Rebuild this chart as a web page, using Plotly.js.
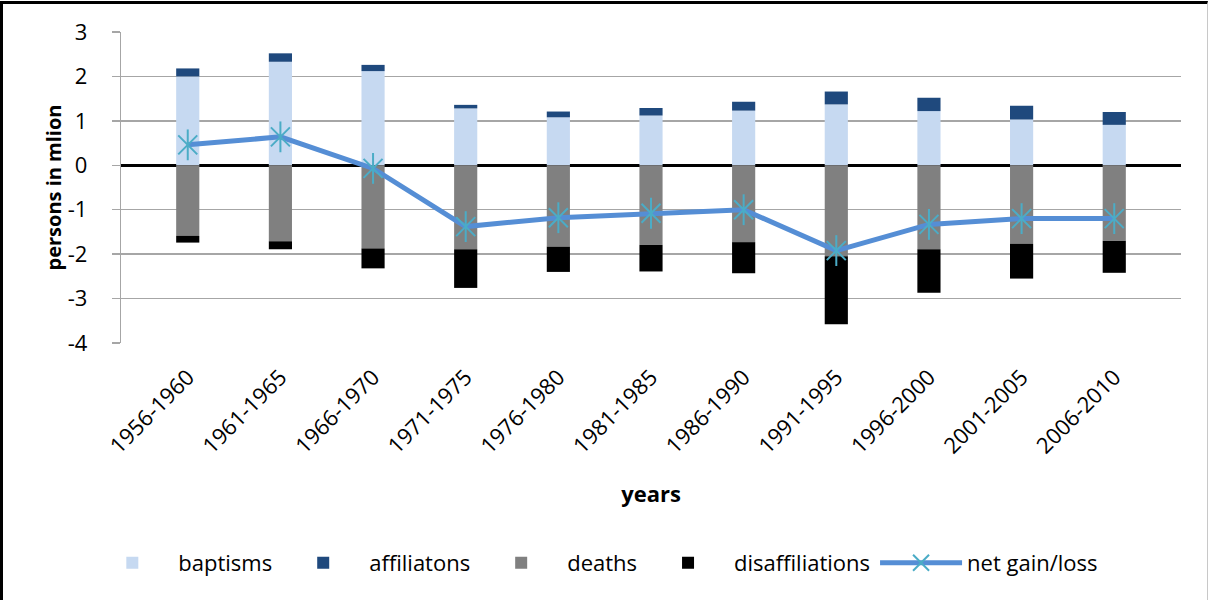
<!DOCTYPE html>
<html>
<head>
<meta charset="utf-8">
<script src="https://cdn.plot.ly/plotly-3.0.1.min.js"></script>
<style>
  html, body { margin: 0; padding: 0; background: #fff; }
  #wrap { position: relative; width: 1210px; height: 600px; }
  #chart { width: 1210px; height: 600px; }
  #frame { position: absolute; left: 0; top: 1px; width: 1208px; height: 599px;
           border-top: 3px solid #000; border-left: 3px solid #000; border-right: 1px solid #c8c8c8;
           box-sizing: border-box; pointer-events: none; }
</style>
</head>
<body>
<div id="wrap">
  <div id="chart"></div>
  <div id="frame"></div>
</div>
<script>
const categories = ['1956-1960','1961-1965','1966-1970','1971-1975','1976-1980','1981-1985',
                    '1986-1990','1991-1995','1996-2000','2001-2005','2006-2010'];
const baptisms        = [2.00, 2.33, 2.12, 1.28, 1.08, 1.12, 1.23, 1.37, 1.22, 1.03, 0.91];
const affiliations    = [0.18, 0.19, 0.14, 0.08, 0.13, 0.17, 0.20, 0.29, 0.30, 0.31, 0.29];
const deaths          = [-1.59, -1.71, -1.87, -1.89, -1.83, -1.79, -1.73, -2.05, -1.89, -1.77, -1.70];
const disaffiliations = [-0.15, -0.18, -0.45, -0.87, -0.57, -0.60, -0.70, -1.53, -0.98, -0.78, -0.72];
const netGainLoss     = [0.46, 0.64, -0.07, -1.38, -1.18, -1.08, -1.00, -1.92, -1.33, -1.20, -1.20];
const yTicks = [3, 2, 1, 0, -1, -2, -3, -4];

const FONT = 'Open Sans, Noto Sans, sans-serif';

const traces = [
  { type: 'bar', name: 'baptisms', x: categories, y: baptisms,
    marker: { color: '#c6d9f1' } },
  { type: 'bar', name: 'affiliatons', x: categories, y: affiliations,
    marker: { color: '#1f497d' } },
  { type: 'bar', name: 'deaths', x: categories, y: deaths,
    marker: { color: '#808080' } },
  { type: 'bar', name: 'disaffiliations', x: categories, y: disaffiliations,
    marker: { color: '#000000' } },
  { type: 'scatter', mode: 'lines+markers', name: 'net gain/loss', x: categories, y: netGainLoss,
    line: { color: '#558ed5', width: 5 },
    marker: { symbol: 'x-thin-open', size: 19, color: '#4bacc6', line: { color: '#4bacc6', width: 2 } } },
  { type: 'scatter', mode: 'markers', name: 'net gain/loss', showlegend: false, x: categories, y: netGainLoss,
    marker: { symbol: 'line-ns-open', size: 22, color: '#4bacc6', line: { color: '#4bacc6', width: 2 } } }
];

const layout = {
  width: 1210, height: 600,
  margin: { l: 121, r: 29, t: 32, b: 257 },
  paper_bgcolor: '#ffffff', plot_bgcolor: '#ffffff',
  barmode: 'relative', bargap: 0.75,
  font: { family: FONT, size: 21, color: '#000' },
  showlegend: true,
  legend: { orientation: 'h', x: 0.447, xanchor: 'center', y: -0.707, yanchor: 'middle',
            font: { family: FONT, size: 22, color: '#000' }, itemwidth: 82, traceorder: 'normal' },
  xaxis: {
    type: 'category', tickangle: -45, showgrid: false, zeroline: false, showline: false,
    ticks: '', ticklabelstandoff: 16,
    tickfont: { family: FONT, size: 22, color: '#000' },
    title: { text: '<b>years</b>', font: { family: FONT, size: 22, color: '#000' }, standoff: 28 },
    automargin: false
  },
  yaxis: {
    range: [-4, 3], tickvals: yTicks, ticktext: yTicks.map(String),
    showgrid: true, gridcolor: '#a6a6a6', gridwidth: 1.3,
    zeroline: true, zerolinecolor: '#000', zerolinewidth: 3.5,
    showline: true, linecolor: '#a6a6a6', linewidth: 1.3,
    ticks: 'outside', ticklen: 8, tickcolor: '#a6a6a6', tickwidth: 1.3,
    ticklabelstandoff: 20,
    tickfont: { family: FONT, size: 22, color: '#000' },
    title: { text: '<b>persons in mlion</b>', font: { family: FONT, size: 20, color: '#000' }, standoff: 0 },
    automargin: false
  }
};

Plotly.newPlot('chart', traces, layout, { staticPlot: true, displayModeBar: false });
</script>
</body>
</html>
